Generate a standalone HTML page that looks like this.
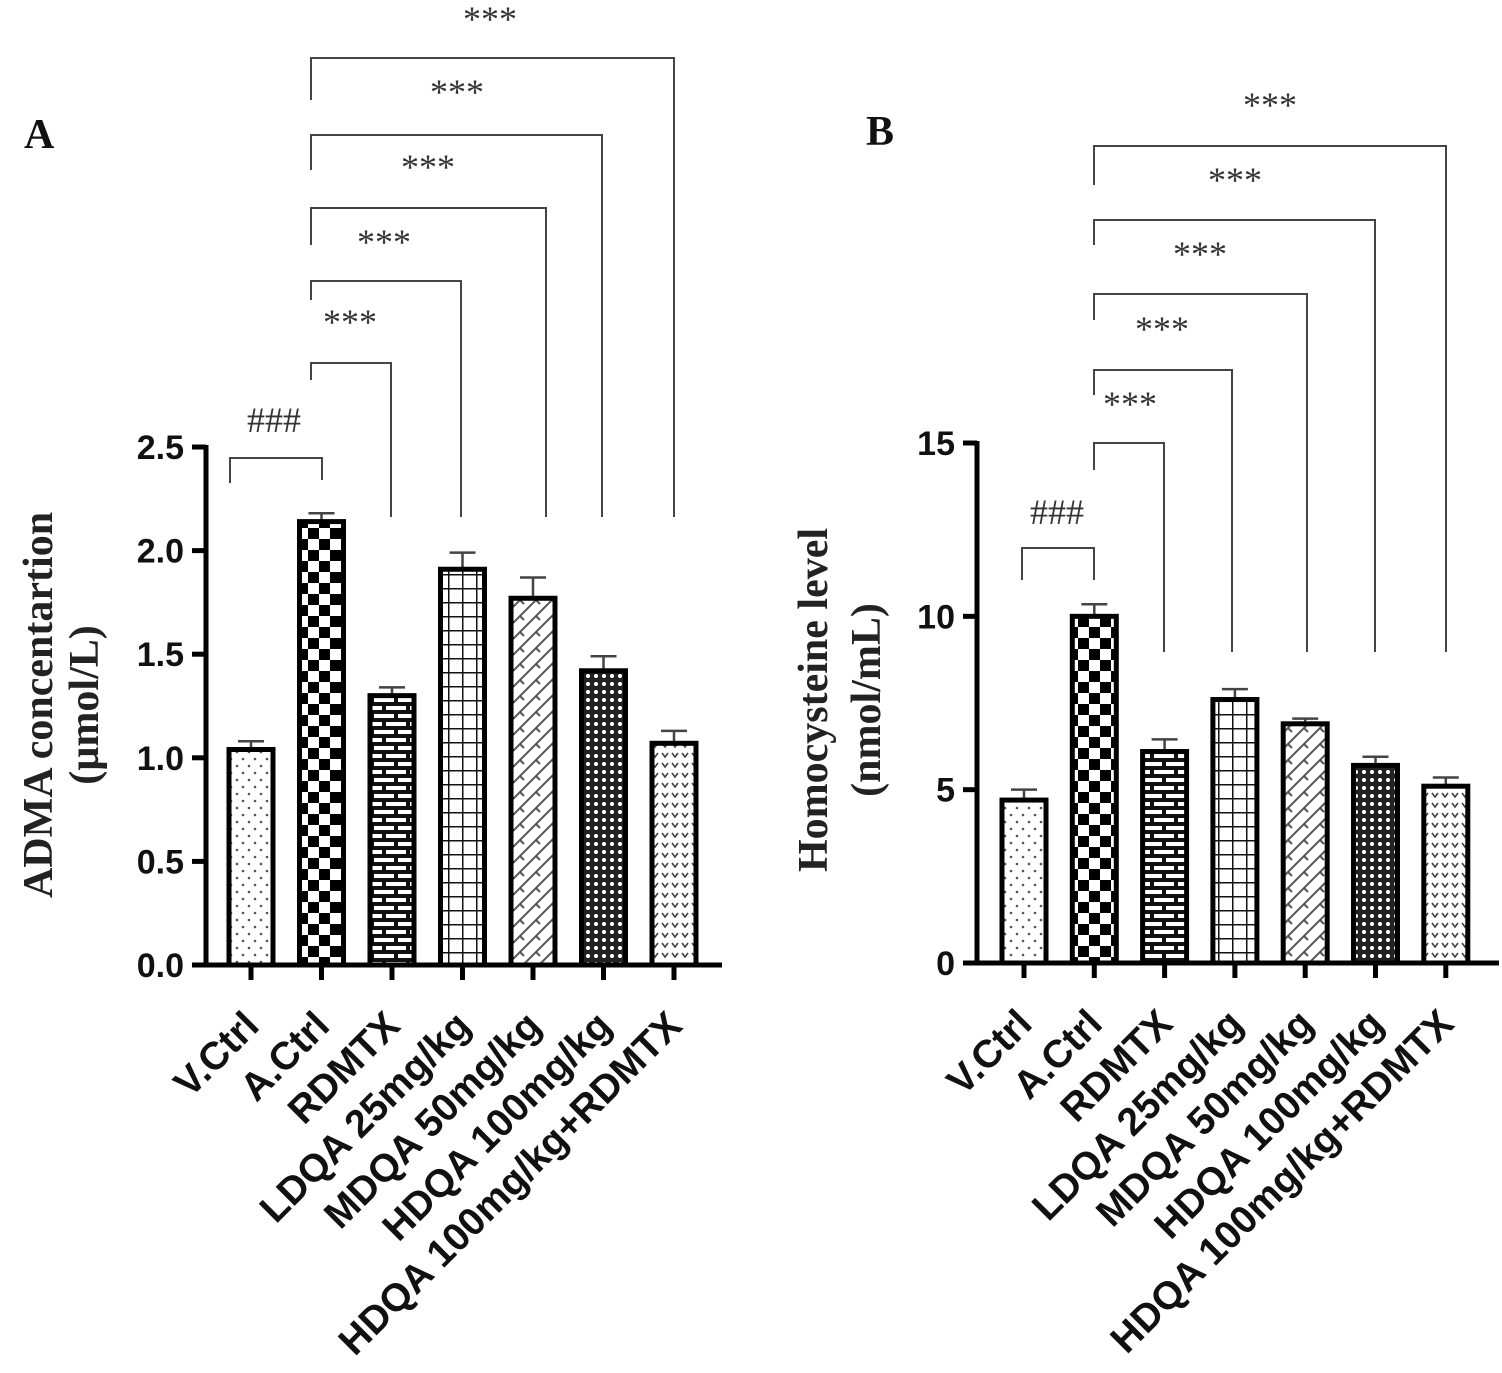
<!DOCTYPE html>
<html><head><meta charset="utf-8"><style>
html,body{margin:0;padding:0;background:#fff;}
svg{display:block;}
.tk{font-family:"Liberation Sans",sans-serif;font-weight:bold;font-size:34px;fill:#111;}
.xl{font-family:"Liberation Sans",sans-serif;font-weight:bold;font-size:39px;fill:#111;}
.yt{font-family:"Liberation Serif",serif;font-weight:bold;font-size:42px;fill:#222;}
.st{font-family:"Liberation Serif",serif;font-size:36px;fill:#333;}
.pl{font-family:"Liberation Serif",serif;font-weight:bold;font-size:42px;fill:#111;}
</style></head><body>
<svg id="chart" width="1502" height="1373" viewBox="0 0 1502 1373" xmlns="http://www.w3.org/2000/svg">
<defs>
<pattern id="p0" width="12" height="14" patternUnits="userSpaceOnUse"><rect width="12" height="14" fill="#fff"/><circle cx="3" cy="3" r="1.3" fill="#555"/><circle cx="9" cy="10" r="1.3" fill="#555"/></pattern>
<pattern id="p1" width="22" height="22" patternUnits="userSpaceOnUse"><rect width="22" height="22" fill="#fff"/><rect width="11" height="11" fill="#000"/><rect x="11" y="11" width="11" height="11" fill="#000"/></pattern>
<pattern id="p2" width="24" height="16" patternUnits="userSpaceOnUse"><rect width="24" height="16" fill="#111"/><rect x="2" y="2" width="20" height="4" fill="#fff"/><rect x="-10" y="10" width="20" height="4" fill="#fff"/><rect x="14" y="10" width="20" height="4" fill="#fff"/></pattern>
<pattern id="p3" width="14" height="14" patternUnits="userSpaceOnUse"><rect width="14" height="14" fill="#fff"/><path d="M0 0H14M0 0V14" stroke="#111" stroke-width="3"/></pattern>
<pattern id="p4" width="16" height="16" patternUnits="userSpaceOnUse"><rect width="16" height="16" fill="#fff"/><path d="M0 16L16 0M-4 4L4 -4M12 20L20 12M8 8L12 12" stroke="#555" stroke-width="2"/></pattern>
<pattern id="p5" width="8" height="8" patternUnits="userSpaceOnUse"><rect width="8" height="8" fill="#222"/><circle cx="4" cy="4" r="2" fill="#fff"/></pattern>
<pattern id="p6" width="10" height="10" patternUnits="userSpaceOnUse"><rect width="10" height="10" fill="#fff"/><path d="M2 3L5 7L8 3" stroke="#444" stroke-width="1.6" fill="none"/></pattern>
</defs>
<g id="root"></g>
</svg>
<script>
const categories=["V.Ctrl","A.Ctrl","RDMTX","LDQA 25mg/kg","MDQA 50mg/kg","HDQA 100mg/kg","HDQA 100mg/kg+RDMTX"];
const admaValues=[1.04,2.14,1.30,1.91,1.77,1.42,1.07];
const admaErrors=[0.04,0.04,0.04,0.08,0.10,0.07,0.06];
const admaTicks=[0,0.5,1.0,1.5,2.0,2.5];
const admaTickLabels=["0.0","0.5","1.0","1.5","2.0","2.5"];
const hcyValues=[4.7,10.0,6.1,7.6,6.9,5.7,5.1];
const hcyErrors=[0.3,0.35,0.35,0.3,0.15,0.25,0.25];
const hcyTicks=[0,5,10,15];
const hcyTickLabels=["0","5","10","15"];
const NS="http://www.w3.org/2000/svg";
const root=document.getElementById('root');
function mk(tag,attrs,parent,txt){const e=document.createElementNS(NS,tag);for(const k in attrs)e.setAttribute(k,attrs[k]);if(txt!==undefined)e.textContent=txt;(parent||root).appendChild(e);return e;}
function panel(cfg){
  const g=mk('g',{});
  
  
  const y=v=>cfg.y0-(v-cfg.vmin)/(cfg.vmax-cfg.vmin)*(cfg.y0-cfg.y1);
  const x=i=>cfg.xc0+i*cfg.step;
  cfg.values.forEach((v,i)=>{
    const cx=x(i),top=y(v),bw=44;
    const eb=mk('path',{d:`M${cx} ${top} V${y(v+cfg.errors[i])} M${cx-13} ${y(v+cfg.errors[i])} H${cx+13}`,stroke:'#444','stroke-width':2.5,fill:'none'},g);
    
    
    const r=mk('rect',{x:cx-bw/2,y:top,width:bw,height:cfg.y0-top,fill:`url(#p${i})`,stroke:'#000','stroke-width':5},g);
    
    
  });
  const ax=mk('path',{d:`M${cfg.ax} ${cfg.y1-2} V${cfg.y0} H${cfg.xend}`,stroke:'#000','stroke-width':5,fill:'none'},g);
  
  
  cfg.ticks.forEach((t,i)=>{
    mk('line',{x1:cfg.ax-14,x2:cfg.ax,y1:y(t),y2:y(t),stroke:'#000','stroke-width':5},g);
    const tl=mk('text',{x:cfg.ax-22,y:y(t)+12,'text-anchor':'end',class:'tk'},g,cfg.tickLabels[i]);
    
    
  });
  categories.forEach((c,i)=>{
    mk('line',{x1:x(i),x2:x(i),y1:cfg.y0,y2:cfg.y0+15,stroke:'#000','stroke-width':5},g);
    const ax0=x(i)+10, ay0=cfg.y0+63;
    const xl=mk('text',{x:ax0,y:ay0,'text-anchor':'end',class:'xl',transform:`rotate(-45 ${ax0} ${ay0})`},g,c);
    
    
  });
  const t1=mk('text',{x:cfg.tx1,y:cfg.ty,'text-anchor':'middle',class:'yt',transform:`rotate(-90 ${cfg.tx1} ${cfg.ty})`},g,cfg.title1);
  
  
  const t2=mk('text',{x:cfg.tx2,y:cfg.ty,'text-anchor':'middle',class:'yt',transform:`rotate(-90 ${cfg.tx2} ${cfg.ty})`},g,cfg.title2);
  
  
  const pl=mk('text',{x:cfg.lx,y:cfg.ly,class:'pl'},g,cfg.letter);
  
  
  cfg.brackets.forEach(b=>{
    const p=mk('path',{d:`M${b.x1} ${b.l1} V${b.top} H${b.x2} V${b.l2}`,stroke:'#444','stroke-width':2,fill:'none'},g);
    
    
    const s=mk('text',{x:b.sx,y:b.sy,'text-anchor':'middle',class:'st'},g,b.s);
    
    
  });
}
panel({name:'panel-a',values:admaValues,errors:admaErrors,ticks:admaTicks,tickLabels:admaTickLabels,vmin:0,vmax:2.5,y0:965,y1:447,ax:206,xend:722,xc0:251,step:70.5,
  title1:'ADMA concentartion',title2:'(µmol/L)',tx1:52,tx2:98,ty:705,letter:'A',lx:24,ly:148,
  brackets:[
    {x1:230,l1:483,top:458,x2:322,l2:480,s:'###',sx:274,sy:432},
    {x1:311,l1:380,top:363,x2:391,l2:517,s:'***',sx:350,sy:334},
    {x1:311,l1:300,top:281,x2:461,l2:517,s:'***',sx:384,sy:254},
    {x1:311,l1:245,top:208,x2:546,l2:517,s:'***',sx:428,sy:179},
    {x1:311,l1:170,top:135,x2:602,l2:517,s:'***',sx:457,sy:104},
    {x1:311,l1:100,top:58,x2:674,l2:517,s:'***',sx:490,sy:31}]});
panel({name:'panel-b',values:hcyValues,errors:hcyErrors,ticks:hcyTicks,tickLabels:hcyTickLabels,vmin:0,vmax:15,y0:963,y1:443,ax:977,xend:1499,xc0:1024,step:70.3,
  title1:'Homocysteine level',title2:'(nmol/mL)',tx1:827,tx2:880,ty:700,letter:'B',lx:866,ly:145,
  brackets:[
    {x1:1022,l1:580,top:548,x2:1094,l2:580,s:'###',sx:1057,sy:524},
    {x1:1094,l1:470,top:443,x2:1164,l2:652,s:'***',sx:1130,sy:416},
    {x1:1094,l1:395,top:370,x2:1232,l2:652,s:'***',sx:1162,sy:341},
    {x1:1094,l1:320,top:294,x2:1307,l2:652,s:'***',sx:1200,sy:266},
    {x1:1094,l1:245,top:220,x2:1375,l2:652,s:'***',sx:1235,sy:192},
    {x1:1094,l1:185,top:146,x2:1446,l2:652,s:'***',sx:1270,sy:117}]});
</script>
</body></html>
